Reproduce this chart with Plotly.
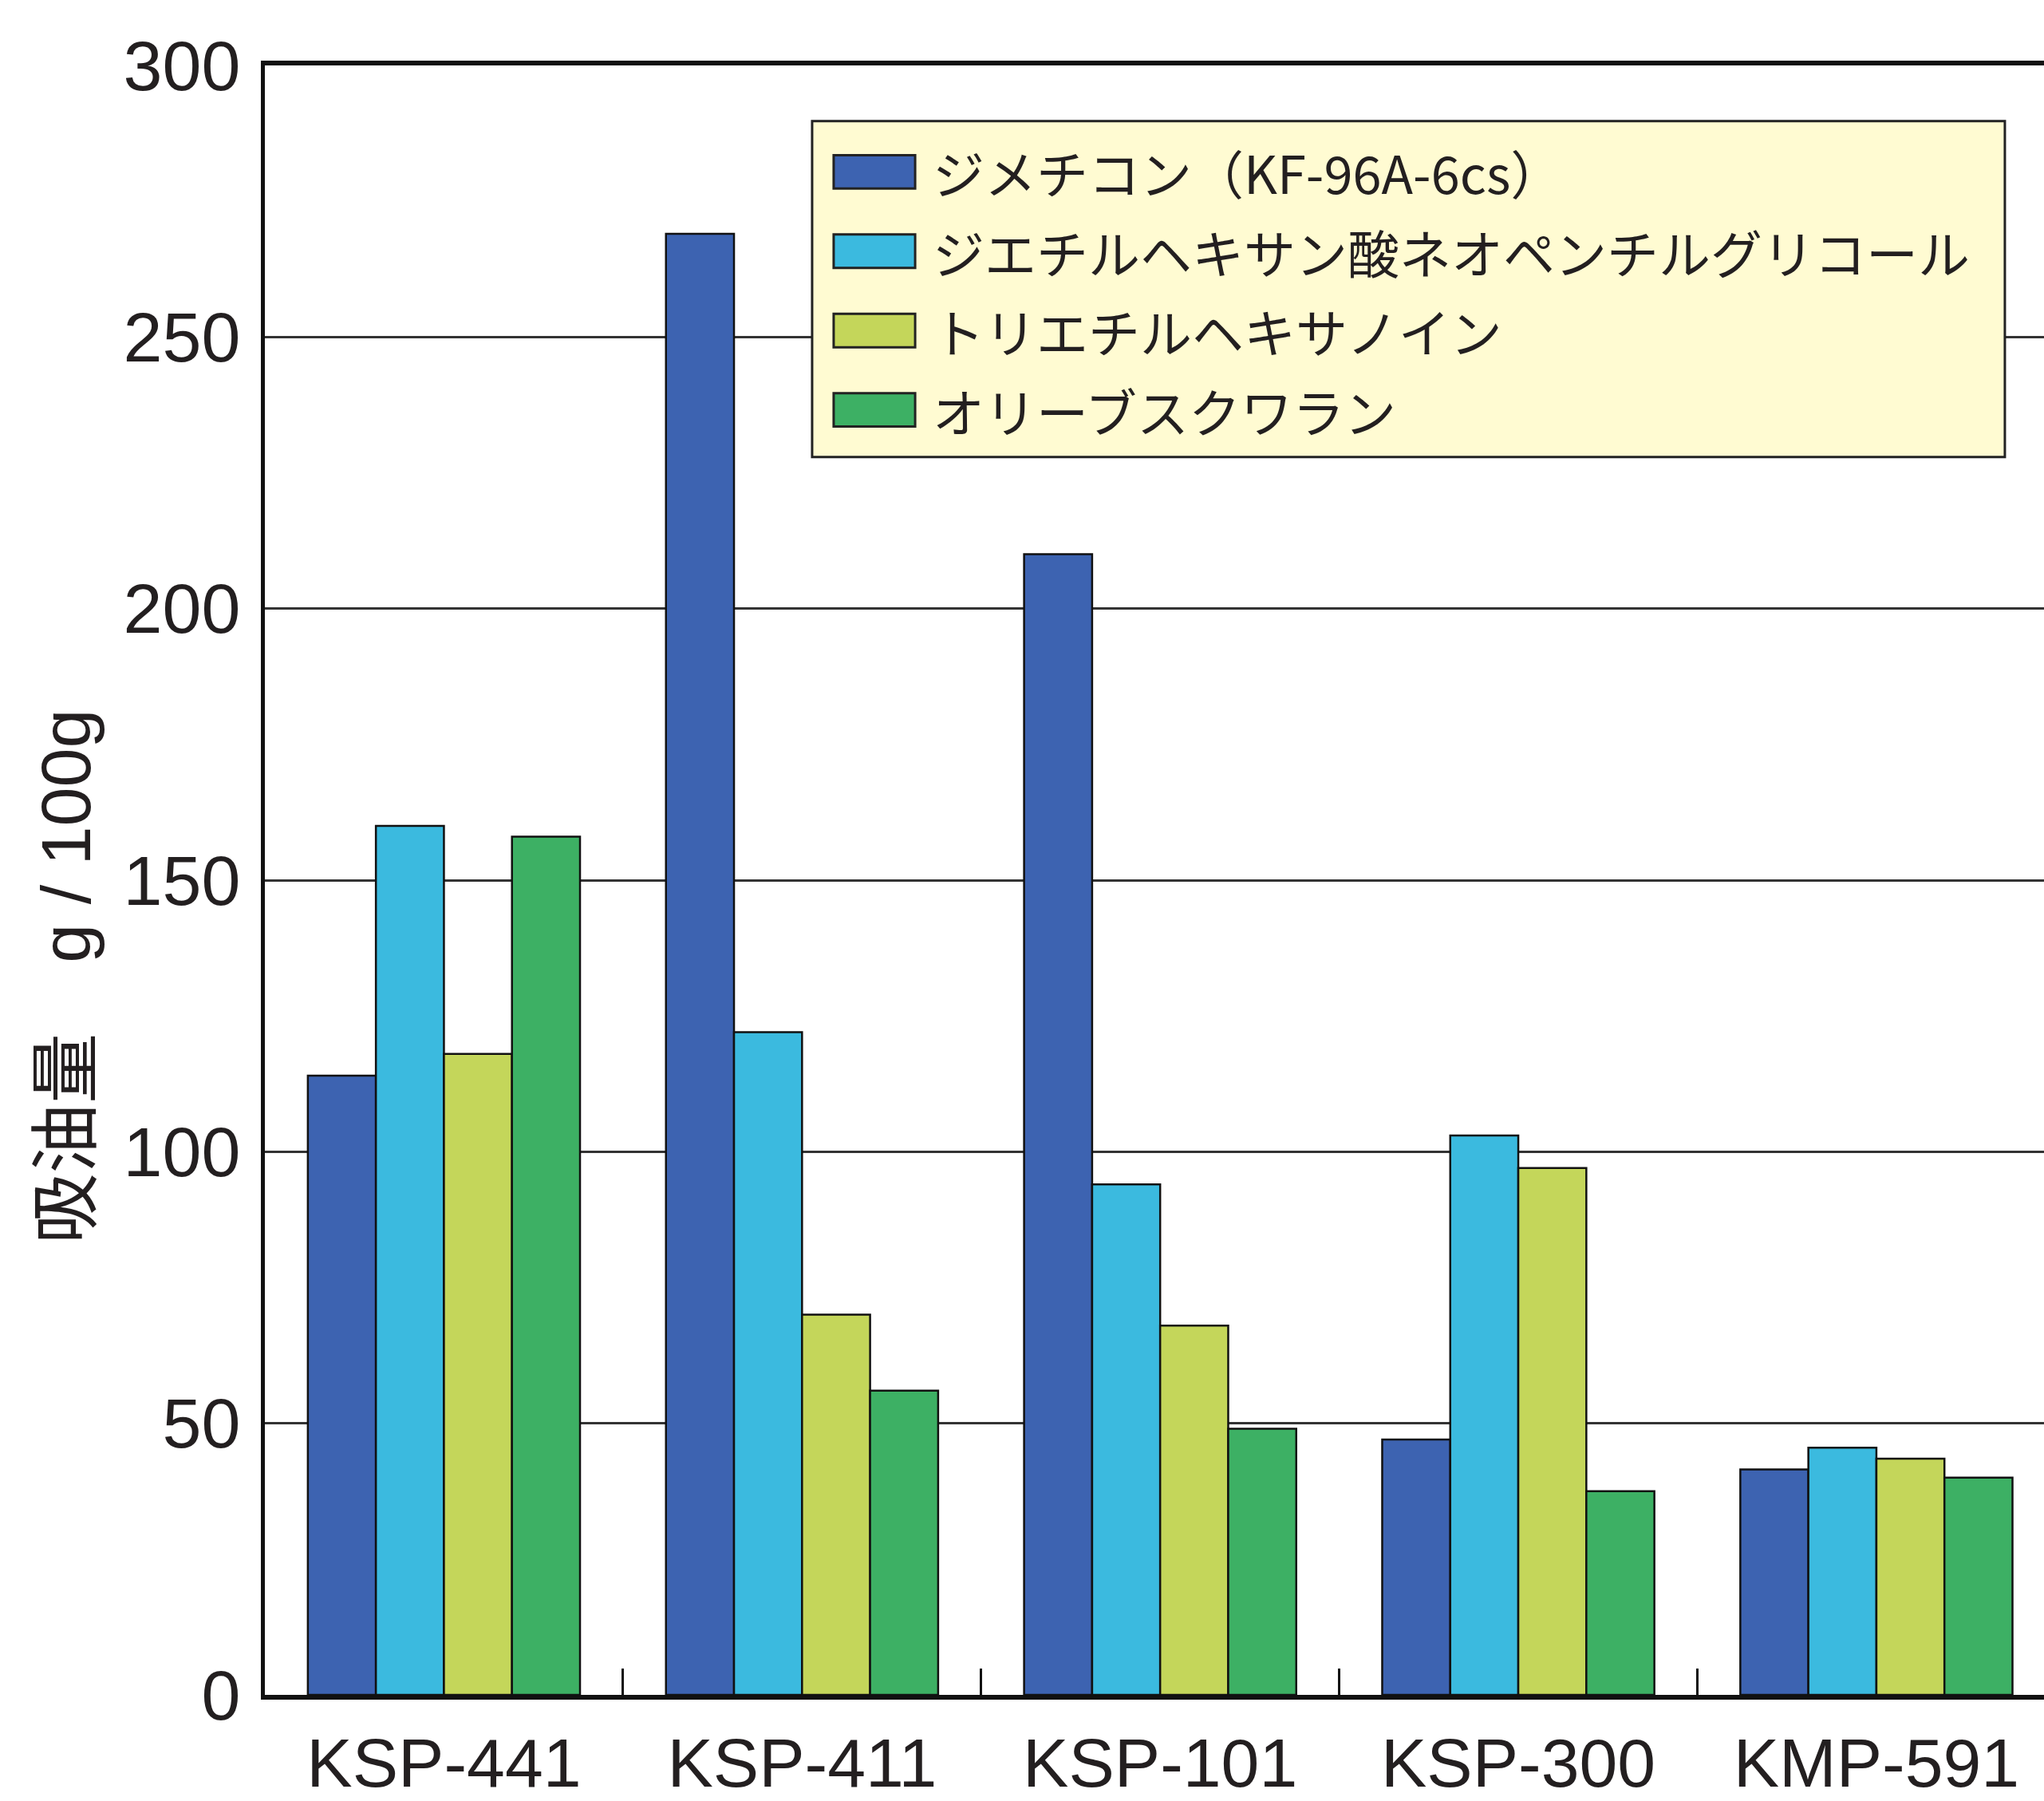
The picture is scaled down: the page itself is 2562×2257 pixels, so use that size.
import plotly.graph_objects as go

# ---- data ----
categories = ["KSP-441", "KSP-411", "KSP-101", "KSP-300", "KMP-591"]
series_names = [
    "ジメチコン（KF-96A-6cs）",
    "ジエチルヘキサン酸ネオペンチルグリコール",
    "トリエチルヘキサノイン",
    "オリーブスクワラン",
]
dimethicone = [114, 269, 210, 47, 41.5]
neopentyl_glycol = [160, 122, 94, 103, 45.5]
triethylhexanoin = [118, 70, 68, 97, 43.5]
olive_squalane = [158, 56, 49, 37.5, 40]
y_ticks = [0, 50, 100, 150, 200, 250, 300]
y_title = "吸油量　g / 100g"

series_values = [dimethicone, neopentyl_glycol, triethylhexanoin, olive_squalane]
colors = ["#3d63b1", "#3bbadf", "#c4d65a", "#3db064"]

LATIN = "Liberation Sans, Arial, Noto Sans CJK JP, sans-serif"
CJK = "Noto Sans CJK JP, sans-serif"
TXT = "#231f20"

fig = go.Figure()
for name, vals, col in zip(series_names, series_values, colors):
    fig.add_trace(go.Bar(
        x=categories, y=vals, name=name,
        marker=dict(color=col, line=dict(color="#111111", width=2.5)),
        showlegend=False,
    ))

fig.update_layout(
    width=2562, height=2257,
    margin=dict(l=332, r=0, t=82, b=123),
    paper_bgcolor="white", plot_bgcolor="white",
    barmode="group", bargap=0.24, bargroupgap=0,
    font=dict(family=LATIN, color=TXT),
    xaxis=dict(
        type="category", range=[-0.5, 4.468],
        showline=True, linewidth=6, linecolor="#111111", mirror=True,
        ticks="inside", tickson="boundaries", ticklen=33, tickwidth=2.5, tickcolor="#111111",
        tickfont=dict(size=86, family=LATIN, color=TXT),
        ticklabelstandoff=6, showgrid=False,
    ),
    yaxis=dict(
        range=[0, 300], tickvals=y_ticks,
        showgrid=True, gridcolor="#333333", gridwidth=3,
        showline=True, linewidth=5, linecolor="#111111",
        zeroline=False, ticks="",
        tickfont=dict(size=88, family=LATIN, color=TXT),
        ticklabelstandoff=8,
    ),
)

# y-axis title (placed below the axis centre as in the original)
fig.add_annotation(xref="paper", yref="paper", x=-0.112, y=0.441,
                   xanchor="center", yanchor="middle", showarrow=False,
                   textangle=-90, text=y_title,
                   font=dict(size=88, family=LATIN, color=TXT))

# ---- legend box (custom, to match the large swatches) ----
lx0, lx1, ly0, ly1 = 0.3076, 0.978, 0.7597, 0.9659
fig.add_shape(type="rect", xref="paper", yref="paper", x0=lx0, x1=lx1, y0=ly0, y1=ly1,
              fillcolor="#fffbd2", line=dict(color="#222222", width=3), layer="above")
row0, drow = 0.9347, 0.0487
sw_x0, sw_x1, sw_h = 0.3197, 0.3655, 0.0205
for i, (name, col) in enumerate(zip(series_names, colors)):
    yc = row0 - i * drow
    fig.add_shape(type="rect", xref="paper", yref="paper",
                  x0=sw_x0, x1=sw_x1, y0=yc - sw_h / 2, y1=yc + sw_h / 2,
                  fillcolor=col, line=dict(color="#222222", width=3), layer="above")
    fig.add_annotation(xref="paper", yref="paper", x=0.3744, y=yc,
                       xanchor="left", yanchor="middle", showarrow=False,
                       text=name, font=dict(size=65, family=CJK, color=TXT))

fig.write_html(
    "out.html",
    config={"displayModeBar": False},
    post_script="document.body.style.margin='0';document.body.style.overflow='hidden';",
)
